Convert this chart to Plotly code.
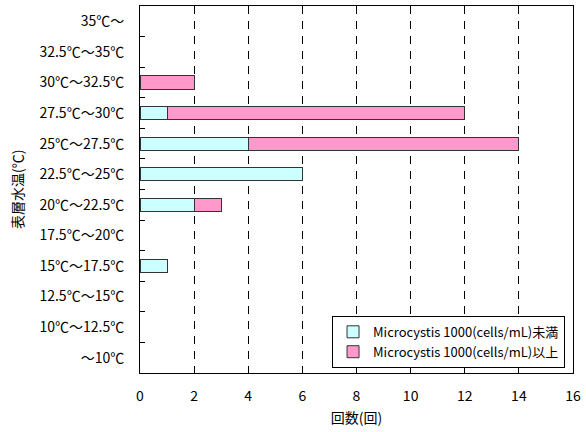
import plotly.graph_objects as go

categories = ["～10℃", "10℃～12.5℃", "12.5℃～15℃", "15℃～17.5℃", "17.5℃～20℃",
              "20℃～22.5℃", "22.5℃～25℃", "25℃～27.5℃", "27.5℃～30℃",
              "30℃～32.5℃", "32.5℃～35℃", "35℃～"]
below_1000 = [None, None, None, 1, None, 2, 6, 4, 1, None, None, None]
above_1000 = [None, None, None, None, None, 1, None, 10, 11, 2, None, None]
x_ticks = [0, 2, 4, 6, 8, 10, 12, 14, 16]

font = "Noto Sans CJK JP"
fs = 14

fig = go.Figure()
fig.add_trace(go.Bar(
    y=categories, x=below_1000, orientation="h",
    name="Microcystis 1000(cells/mL)未満",
    marker=dict(color="#CCFFFF", line=dict(color="#333333", width=1)),
    width=0.43,
))
fig.add_trace(go.Bar(
    y=categories, x=above_1000, orientation="h",
    name="Microcystis 1000(cells/mL)以上",
    marker=dict(color="#FF99CC", line=dict(color="#333333", width=1)),
    width=0.43,
))

plot_w = 586 - 140 - 11

fig.update_layout(
    barmode="stack",
    width=586, height=432,
    margin=dict(l=140, r=11, t=5, b=59),
    paper_bgcolor="white", plot_bgcolor="white",
    font=dict(family=font, size=fs, color="black"),
    showlegend=True,
    legend=dict(
        x=(567 - 140) / plot_w, y=0.014, xanchor="right", yanchor="bottom",
        bgcolor="white", bordercolor="black", borderwidth=1,
        font=dict(family=font, size=13, color="black"),
        traceorder="normal",
        tracegroupgap=0,
        itemwidth=30,
    ),
    xaxis=dict(
        range=[0, 16], tickvals=x_ticks,
        showgrid=True, gridcolor="black", griddash="8px,7px", gridwidth=1,
        showline=True, linecolor="black", linewidth=1, mirror=True,
        ticks="", zeroline=False,
        ticklabelstandoff=10,
        title=dict(text="回数(回)", standoff=9, font=dict(family=font, size=fs)),
        tickfont=dict(family=font, size=fs),
    ),
    yaxis=dict(
        categoryorder="array", categoryarray=categories,
        showline=True, linecolor="black", linewidth=1, mirror=True,
        ticks="inside", ticklen=5, tickcolor="black", tickson="boundaries",
        showgrid=False,
        ticklabelstandoff=12,
        tickfont=dict(family=font, size=fs),
    ),
    annotations=[dict(
        text="表層水温(℃)", xref="paper", yref="paper",
        x=(16 - 140) / plot_w, y=0.5, xanchor="center", yanchor="middle",
        textangle=-90, showarrow=False, font=dict(family=font, size=fs),
    )],
)

fig.write_html(
    "out.html",
    config={"displayModeBar": False},
    post_script="document.body.style.margin='0';document.body.style.overflow='hidden';",
)
